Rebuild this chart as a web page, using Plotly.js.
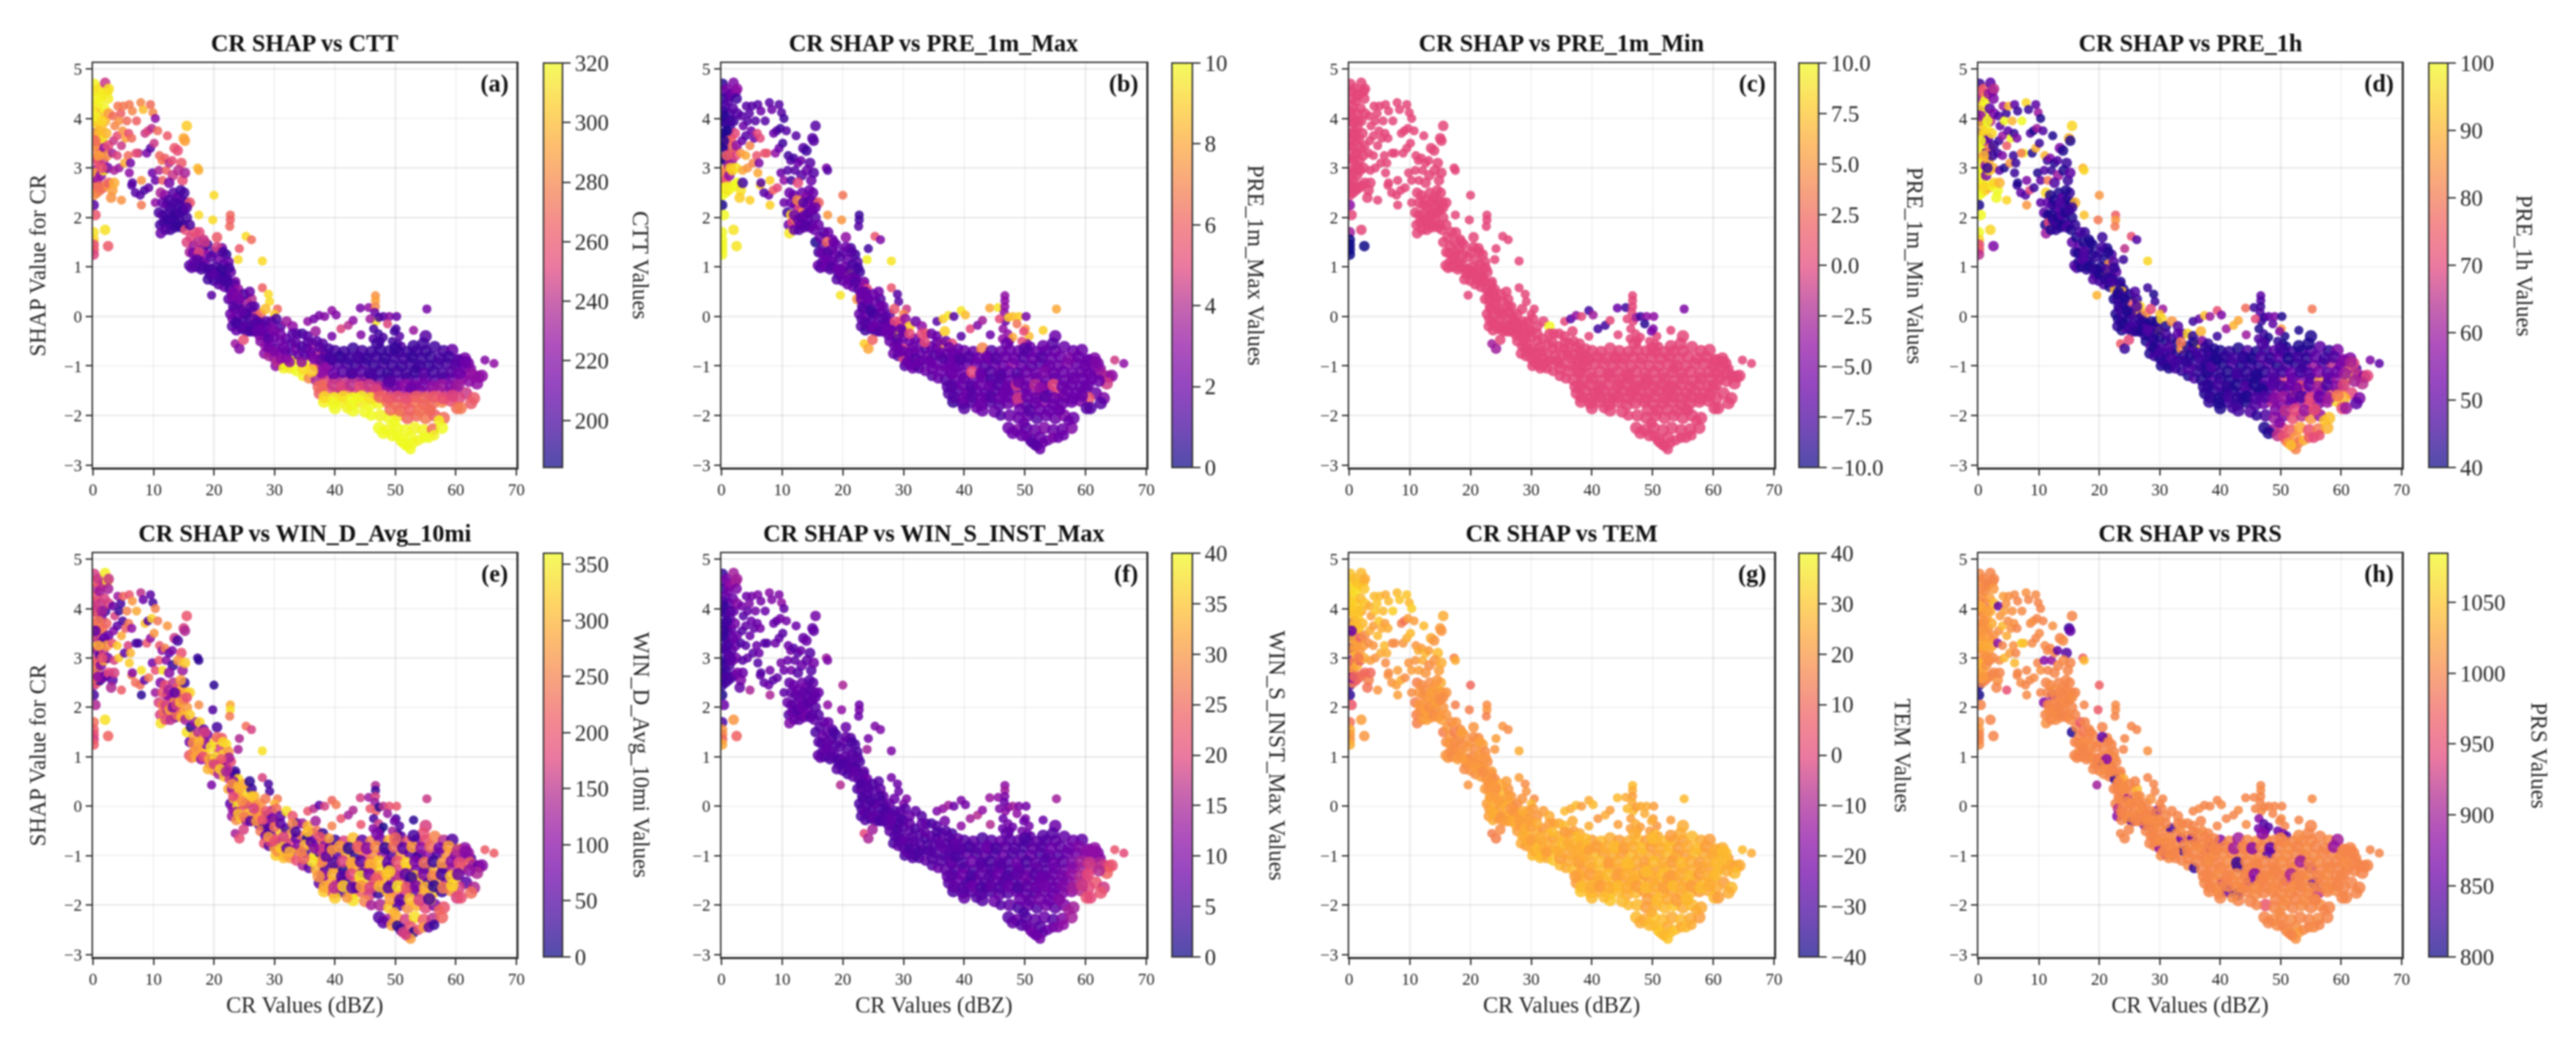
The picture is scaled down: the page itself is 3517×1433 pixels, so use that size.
<!DOCTYPE html>
<html><head><meta charset="utf-8">
<script src="https://cdn.plot.ly/plotly-3.0.1.min.js"></script>
<style>html,body{margin:0;padding:0;background:#fff}#g{width:3517px;height:1433px;filter:blur(0.8px)}</style>
</head><body><div id="g"></div>
<script>
const crValues=[
0.2,0.3,0.5,0.9,1.3,0.2,0.6,1.1,1.7,2.4,2.0,2.6,0.2,0.7,1.3,1.9,2.5,0.3,0.8,1.4,
2.0,2.6,0.2,0.6,1.1,1.6,2.2,0.2,0.7,1.3,1.9,2.5,0.2,0.6,1.2,1.7,2.3,0.2,0.7,1.3,
1.8,2.4,0.1,0.6,1.1,1.6,2.1,2.6,0.1,0.4,0.1,0.1,0.1,0.1,0.1,2.0,2.5,3.2,3.5,3.0,
3.3,4.1,4.6,3.6,4.3,5.0,3.4,4.0,4.9,5.6,3.2,4.0,4.7,5.4,3.5,4.3,5.2,5.8,4.7,6.4,
6.0,6.5,7.2,7.9,8.3,9.5,9.9,10.3,5.9,6.4,7.5,8.6,9.1,9.7,6.2,7.1,8.0,8.9,9.5,10.1,
6.5,7.0,7.8,8.5,9.2,9.8,10.3,8.0,6.0,10.7,11.0,11.4,11.9,12.3,10.3,10.9,11.5,12.1,12.6,13.1,
13.5,14,14.6,15,15.5,15.2,13.2,14.1,14.8,15.2,11.2,11.9,12.6,13.3,13.9,14.6,15.1,10.9,11.5,12.2,
12.8,13.4,14.1,14.8,15.4,11.1,11.7,12.4,13,13.6,14.2,14.9,15.5,11.2,12.0,12.8,13.9,14.6,15.3,16.0,
17.3,17.5,20,19.8,22.7,22.7,22.6,17.5,25.3,26.2,24.2,24,28,28,29,29.2,19.6,30.5,30,23.5,
15.5,16.2,16.9,17.6,18.3,16,16.7,17.4,18.2,18.9,15.9,16.6,17.4,18.1,18.8,16.3,17.0,17.9,18.6,19.3,
20.5,21.3,22,20.1,20.8,21.6,22.4,19.7,20.5,21.2,22,22.8,23.5,20,20.8,21.7,22.6,23.4,24,21.6,
22.4,23,23.7,22.7,23.3,24,24.7,25.4,26.2,25,25.9,26.7,23.1,23.9,24.7,25.4,26.3,27,27.7,28.5,
23,23.7,24.6,25.4,26.1,27,27.9,28.7,29.5,30.3,24.2,24.9,26.5,27.5,28.3,29.2,30,31,32,33,
27.7,28.5,29.3,30.2,31,31.9,32.8,33.7,34.6,35.5,28.3,29.1,30,30.9,31.8,32.7,33.6,34.5,35.4,36.3,
29.3,30.2,31.1,32,33,34,35,36,37,38,30.5,31.5,32.6,33.6,34.7,35.7,36.6,37.5,38.4,36.8,
35.5,36.5,37.4,38.3,39.5,40.2,41,42.2,43,44.2,45.6,46.7,46.7,46.7,46.6,46.8,47.3,48,49,50.2,
39.5,44.3,45.8,48.7,50.1,50.7,49.8,55.2,53,46.4,47.2,46.3,47.5,50.4,49.5,51,48,64.8,66.3,62.6,
38.5,40,41.5,43,44.5,46,47.5,49,50.5,52,53.5,55,55,56.5,58,59.4,60.5,61.5,62,54.6,
39,40.5,42,43.5,45,46.5,48,49.5,51,52.5,54,55.5,57,58.5,60,61.3,62.3,63,38,44,
37,38.5,40,41.5,43,44.5,46,47.5,49,50.5,52,53.5,55,56.5,58,59.5,61,63.8,64.3,63.5,
37.5,39,40.5,42,43.5,45,46.5,48,49.5,51,52.5,54,55.5,57,58.5,60,61.7,60.5,63,62.5,
38.2,39.8,41.2,42.8,44.3,45.8,47.2,48.7,50.2,51.7,53.2,54.7,56.2,57.7,59.2,60.2,60.8,40,43,45,
47.5,49,50.5,52,53.5,55,56.5,58,47.3,48.7,50.2,51.7,53.2,54.7,56.2,57.7,48,49.5,51,52.5,
50.3,51.2,52,53,53.8,54.7,55.5,56.4,52.5,51.7,49.8,46,43.5,42,41,55.8,57.2,44.5,53.5,42.7,
37.7,39.3,40.8,42.3,43.8,45.3,46.8,48.3,49.8,51.3,52.8,54.3,55.8,57.3,58.8,60.3,61.6,47,50,53,
37.8,39.8,41.3,42.8,44.3,45.8,47.3,48.8,50.3,51.8,53.3,54.8,56.3,57.8,59.3,60.6,36.2,34.8,62.2,46,
38,39.7,41.2,42.7,44.2,45.7,47.2,48.7,50.2,51.7,53.2,54.7,56.2,57.7,59.2,60.4,37.3,46.8,49,52.6,
38.3,39.9,41.4,42.9,44.4,45.9,47.4,48.9,50.4,51.9,53.4,54.9,56.4,57.9,59.4,49.2,50.8,52.4,54,55.6,
16.5,17.5,18.5,19.5,20.5,21.5,22.5,17.2,18.2,19.2,20.2,21.2,22.2,23.2,19.0,20.0,21.0,22.0,23.0,24.0,
23.2,24.2,25.2,26.2,27.2,23.6,24.6,25.6,26.6,27.6,28.6,29.6,24,25,26,27,28,29,30,31,
29,30,31,32,33,34,35,36,37,38,39,31.5,32.5,33.5,34.5,35.5,36.5,37.5,38.5,39.5,
0.4,0.9,1.5,0.4,0.9,1.5,0.4,0.9,12.0,12.6,13.2,13.8,14.4,15.0,11.5,12.5,13.5,14.5,15.5,16.0];
const shapValues=[
4.7,4.4,4.55,4.6,4.45,4.15,4.25,4.35,4.5,4.55,4.72,4.6,3.95,3.9,4.1,4.2,4.4,3.7,3.65,3.8,
3.95,4.1,3.45,3.4,3.55,3.6,3.7,3.2,3.15,3.3,3.4,3.45,2.95,2.9,3.05,3.15,3.25,2.7,2.75,2.85,
2.95,3.0,2.45,2.5,2.55,2.6,2.65,2.7,2.25,2.05,1.7,1.55,1.45,1.35,1.25,1.75,1.42,2.55,2.7,2.4,
4.05,4.25,4.1,3.85,3.95,4.25,3.55,3.65,3.75,3.95,3.3,3.25,3.45,3.6,2.95,3.0,3.1,3.25,2.35,2.65,
4.28,4.15,3.95,4.32,4.18,4.28,4.12,4.0,3.7,3.6,3.3,3.7,3.75,3.8,3.1,3.3,2.75,3.3,3.4,3.5,
2.7,2.5,2.45,2.55,2.6,2.9,2.75,2.25,2.9,3.75,3.25,3.15,3.2,3.65,2.3,2.95,2.75,2.95,3.1,3.15,
3.4,3.35,3.1,3.6,3.85,3.55,2.85,2.95,2.75,2.9,2.5,2.45,2.7,2.5,2.4,2.35,2.5,2.1,2.05,2.25,
2.2,2.1,2.25,2.15,2.3,1.85,1.9,1.95,1.85,1.8,1.95,1.85,2.0,1.68,1.75,1.75,1.85,1.8,1.75,2.3,
3.0,2.95,2.45,1.95,2.05,1.95,1.82,2.05,1.62,1.55,1.37,1.15,1.12,0.58,0.45,0.3,0.43,0.15,0.05,-0.55,
1.5,1.6,1.7,1.7,1.55,1.3,1.42,1.5,1.35,1.45,1.03,1.1,1.2,1.1,1.25,0.98,1.0,0.95,1.05,0.85,
1.6,1.38,1.25,1.3,1.15,1.05,1.1,0.95,0.88,0.85,0.8,0.9,0.7,0.72,0.65,0.6,0.55,0.65,0.55,0.78,
0.35,0.35,0.5,0.05,0.15,0.25,0.15,0.3,0.35,0.45,0.5,0.2,-0.05,0,-0.08,0.05,0.1,0,0.05,0.15,
-0.2,-0.28,-0.25,-0.3,-0.2,-0.15,-0.15,-0.2,-0.1,-0.05,-0.65,-0.47,-0.3,-0.38,-0.4,-0.35,-0.3,-0.2,-0.1,-0.2,
-0.5,-0.6,-0.55,-0.65,-0.5,-0.45,-0.55,-0.35,-0.35,-0.4,-0.75,-0.8,-0.85,-0.75,-0.7,-0.75,-0.65,-0.6,-0.65,-0.55,
-0.72,-1,-0.98,-1,-0.9,-0.9,-0.95,-0.8,-0.75,-0.7,-0.92,-1.05,-1.05,-1.1,-1.2,-1.25,-1.0,-0.95,-0.85,-0.3,
-0.1,-0.05,0.02,0,0.12,0.03,-0.25,-0.18,-0.08,0.17,0.18,0.42,0.32,0.2,0.08,-0.1,-0.02,0,0.0,0.0,
-0.4,-0.37,-0.05,-0.15,-0.25,-0.4,-0.3,0.15,-0.28,-0.25,-0.35,-0.45,-0.5,-0.55,-0.5,-0.6,-0.42,-0.88,-0.95,-1.05,
-0.78,-0.7,-0.72,-0.65,-0.7,-0.72,-0.68,-0.7,-0.72,-0.72,-0.7,-0.7,-0.4,-0.62,-0.7,-0.68,-0.88,-0.85,-0.95,-0.55,
-1.0,-0.95,-0.95,-1,-0.95,-1.0,-0.95,-1.0,-1.0,-0.95,-1,-1,-0.95,-0.95,-1,-1.05,-1.15,-1.2,-1.15,-0.85,
-1.28,-1.3,-1.25,-1.3,-1.22,-1.28,-1.25,-1.3,-1.25,-1.3,-1.25,-1.3,-1.25,-1.3,-1.25,-1.25,-1.25,-1.22,-1.2,-1.35,
-1.55,-1.5,-1.55,-1.5,-1.55,-1.5,-1.55,-1.5,-1.55,-1.5,-1.55,-1.5,-1.55,-1.5,-1.55,-1.45,-1.55,-1.65,-1.65,-1.75,
-1.72,-1.75,-1.72,-1.78,-1.72,-1.78,-1.75,-1.72,-1.78,-1.75,-1.72,-1.78,-1.75,-1.72,-1.7,-1.85,-1.85,-1.85,-1.9,-1.92,
-2.0,-2.05,-2.0,-2.05,-2.0,-2.05,-2.0,-2.05,-2.25,-2.3,-2.25,-2.3,-2.25,-2.3,-2.28,-2.25,-2.35,-2.4,-2.5,-2.45,
-2.42,-2.55,-2.62,-2.55,-2.5,-2.45,-2.45,-2.4,-2.68,-2.6,-2.15,-2.0,-1.65,-1.85,-1.5,-1.9,-2.1,-1.35,-1.05,-1.15,
-0.88,-0.85,-0.82,-0.85,-0.82,-0.85,-0.82,-0.85,-0.82,-0.85,-0.82,-0.85,-0.82,-0.85,-0.82,-0.9,-0.92,-0.55,-0.65,-0.6,
-1.12,-1.15,-1.12,-1.15,-1.12,-1.15,-1.12,-1.15,-1.12,-1.15,-1.12,-1.15,-1.12,-1.15,-1.12,-1.15,-1.1,-1.05,-1.3,-1.18,
-1.4,-1.38,-1.42,-1.38,-1.42,-1.38,-1.42,-1.38,-1.42,-1.38,-1.42,-1.38,-1.42,-1.38,-1.42,-1.38,-1.42,-1.48,-1.32,-1.45,
-1.63,-1.65,-1.62,-1.65,-1.62,-1.65,-1.62,-1.65,-1.62,-1.65,-1.62,-1.65,-1.62,-1.65,-1.6,-1.88,-1.9,-1.88,-1.9,-1.88,
1.28,1.3,1.5,1.2,1.4,1.3,0.98,1.15,1.0,0.95,1.0,0.95,0.75,0.5,0.75,0.85,0.75,0.7,0.45,0.4,
0.2,0.35,0.05,0.2,-0.1,-0.12,0.1,-0.15,-0.05,-0.25,-0.1,-0.25,-0.15,-0.22,-0.3,-0.3,-0.28,-0.45,-0.42,-0.35,
-0.62,-0.7,-0.85,-0.85,-0.35,-0.78,-0.78,-0.72,-0.5,-0.55,-0.65,-0.62,-0.92,-0.52,-0.92,-0.52,-0.85,-0.62,-1.02,-0.88,
4.05,3.75,3.95,3.55,3.25,3.0,2.6,2.62,2.05,1.95,2.0,2.05,2.1,2.15,2.3,2.35,2.3,2.55,2.2,1.85];
const cttValues=[
318,316,315,312,318,300,315,318,316,315,245,312,285,310,300,318,316,225,290,300,
296,288,305,280,275,315,298,250,255,265,225,255,230,290,260,245,285,210,235,225,
315,215,285,280,275,270,285,265,205,260,312,310,255,262,250,312,262,290,295,285,
270,275,265,280,285,275,245,255,285,270,235,250,245,290,235,230,295,270,285,205,
275,280,265,280,300,270,280,225,255,270,240,245,250,240,215,255,285,215,205,245,
205,205,205,200,208,212,210,275,225,270,268,275,265,262,225,235,265,265,240,255,
262,255,262,295,305,290,245,240,255,235,235,225,215,205,210,205,200,200,205,200,
200,197,200,195,200,200,198,195,200,195,198,195,198,210,205,200,195,195,255,260,
300,295,310,310,268,265,268,310,310,270,262,310,310,265,310,310,205,268,305,230,
250,250,255,252,245,235,230,240,215,200,205,210,215,205,225,205,205,200,215,208,
262,215,192,205,215,205,210,205,205,200,205,210,220,200,205,210,200,205,225,192,
205,215,230,210,215,205,200,230,240,200,210,205,215,210,205,198,205,255,268,300,
205,210,205,200,205,208,212,205,220,200,220,255,205,215,210,205,235,205,230,225,
220,225,215,205,215,210,205,205,200,205,225,235,230,215,210,205,215,200,205,230,
230,225,225,320,315,318,320,240,235,245,240,318,315,320,318,280,250,255,240,230,
225,215,215,220,225,220,250,240,225,215,225,285,290,280,210,315,200,205,220,210,
215,220,230,250,200,205,198,215,228,200,198,205,200,200,198,205,200,220,225,220,
205,200,198,196,200,198,195,196,198,197,200,196,205,198,200,210,210,215,218,198,
215,205,200,198,200,196,200,198,195,198,198,196,197,200,205,212,225,228,225,200,
235,250,235,240,245,235,230,200,205,210,205,208,215,205,210,215,225,225,225,225,
262,255,255,262,250,245,255,260,235,225,235,228,240,245,235,235,245,250,262,262,
318,320,318,320,315,320,318,270,272,268,275,265,270,280,255,270,275,320,320,320,
318,320,315,268,270,275,265,270,320,318,320,320,318,318,272,320,320,320,320,320,
320,320,320,320,318,320,320,318,320,320,320,320,320,318,245,265,318,220,198,215,
205,198,195,197,200,196,198,195,198,200,195,197,196,200,198,205,212,197,195,197,
225,210,205,200,205,200,198,195,200,198,196,205,198,200,205,212,305,310,225,200,
270,245,250,240,255,245,240,220,215,225,218,215,225,228,220,230,268,250,205,212,
310,318,312,320,318,312,265,262,258,255,265,268,262,255,250,270,268,265,272,270,
215,250,245,205,248,200,198,205,200,198,200,195,200,215,198,205,200,198,215,220,
205,215,200,205,200,198,208,200,205,210,205,215,200,205,200,208,210,205,212,215,
215,218,225,220,205,210,205,210,205,205,200,212,225,208,225,205,215,205,225,200,
318,300,310,270,290,255,280,270,198,196,198,195,200,198,210,202,200,198,205,200];
const pre1mMaxValues=[
0.5,0.3,1,2.5,1.5,0.5,1,1.5,2,2.5,2.5,3,0.3,0.8,1,1.5,1,0.3,0.5,1,
1,1.5,0.3,0.5,5,6,5,0.2,0.5,2,6.5,3,7.5,7,4,3,5,8,5,3,
9,9.5,10,10,9.5,10,10,10,0.2,10,10,10,10,10,10,9.5,9.5,9.5,1,9,
1.5,1.5,1.5,2,1.5,1.5,2,1.5,2,1.5,7.5,8,7,2,8,7.5,7,5.5,9,9,
1.5,2,1.5,1.5,2,1.5,1.5,1,5,5,5.5,2,1.5,1,2.5,5.5,9,3,2,1,
1.5,1.5,2,6,5,2,3,9,8,1.5,1,1.5,1,1.5,2,1.5,1,1.5,2,2,
1.5,1,1.5,1.5,1.5,1.5,1.5,2,2,1.5,2,2,5,2,3,1.5,2,1,9,2,
5,7,3,2,2,2,5,8,1.5,2,1.5,2,1.5,9.5,2,1.5,1.5,1.5,2,6,
2.5,1.5,6.5,7.5,0.8,1,1.5,7.5,5.5,2.5,1,9.8,9.5,5.5,1.5,1.5,9.5,4.5,7,9,
0.3,2,1.5,2,2,1,1.5,6,2,2,2,1.5,2,1.5,2,1.5,2,1.5,2,1.5,
3,1,0.8,1.5,2,1,1.5,2,1.5,9.5,2,1,2,2,2,2,1.5,3,5,1.5,
7.5,2,1.5,2,1.5,1.5,1,2,1.5,2,2,2,1.5,2,1.5,1.5,2,2,1.5,5.5,
1.5,1,1.5,1,1.5,2,1.5,2,6,3,8,6,1.5,1.5,2,9,1.5,9,2,3,
2,2,2,5,2,2,2,6,2,2,2,1.5,5,2,2,2,1.5,2,2,7,
2,1.5,2,2,1.5,2,2,1.5,2,2,2,2,1.5,2,1.5,2,2,2,2,9,
1.5,9,9.5,1.5,9.5,8.5,5,2.5,3.5,8,9.5,3,3,3,3,2,9,8.5,9,2.5,
1.5,2,5,6.5,7.5,8.5,5,8,9,3,3,3,2,2,5,2,8,4.5,3,3,
2,2,2,7,1.5,2,2,2,1.5,2,1.5,2,2,2,2,2,2,2.5,2.5,1.5,
1.5,2,2,1.5,2,2,3,2,1.5,1.5,2,2,2.5,2,2,2.5,3,3.5,2,2,
1.5,2,1.5,2,2,1,2,2,1.5,2.5,2,2,1.5,2,2,2,2,4,3,4.5,
1.5,1.5,2,2,1.5,1.5,2,2.5,2,3,4,2,5,2,2,1.5,2,5.5,2.5,1.5,
0.8,1.5,1.5,2,1.5,1.5,2,3,1.5,2,3,2,2,2,2.5,1.5,1.5,1.5,2,2,
2,2,2,1.5,2,2,2.5,2,2,2.5,1.5,2,2.5,2,2,2.5,2,2,1.5,2,
2,1.5,1.5,2,2,2.5,2,2,2,1.5,2,1.5,2,2,2,2.5,2,1.5,2,2,
2,1.5,1.5,2,2,1.5,2,2,1.5,2,1.5,2,2,2.5,2,2,2.5,2,1.5,2,
2,2,5,2,1.5,2,2,1.5,2,2,2.5,2,2,2,2,2,2,2,2,1.5,
1.5,2,1.5,2,2,1.5,2,4.5,2,4,2,5,2,2,2,2,1.5,2,2,3,
1.5,2,1.5,2,1.5,2,2,4.5,2,2,1.5,2,2,2,2,2,1.5,2,2,2,
2,1.5,2,1.5,2,1.5,1,2,1.5,2,2,1.5,2,2,1.5,2,2,1.5,2,2,
1.5,2,1.5,2,2,1.5,1,2,1.5,2,5,2,1.5,2,1.5,2,2,1.5,2,5,
2,2,2,1.5,5,2,1.5,2,2,5,2,2,2,5,2,2,1.5,2,2,1.5,
0.5,0.3,1,0.5,6,9,9.5,9.8,2,2,1.5,2,1.5,2,2,7,1.5,2,2,2];
const pre1mMinValues=[
0,0,0,0,0,0,0,0,0,0,0,0,0,0,0,0,0,0,0,0,
0,0,0,0,0,0,0,0,0,0,0,0,0,0,0,0,0,0,0,0,
0,0,0,0,0,0,0,0,-4,0,-3,-10,-10,-10,-10,0,-10,0,0,0,
0,0,0,0,0,0,0,0,0,0,0,0,0,0,0,0,0,0,0,0,
0,0,0,0,0,0,0,0,0,0,0,0,0,0,0,0,0,0,0,0,
0,0,0,0,0,0,0,0,0,0,0,0,0,0,0,0,0,0,0,0,
0,0,0,0,0,0,0,0,0,0,0,0,0,0,0,0,0,0,0,0,
0,0,0,0,0,0,0,0,0,0,0,0,0,0,0,0,0,0,0,0,
0,0,0,0,0,0,0,0,0,0,0,0,0,0,0,0,0,0,0,-3,
0,0,0,0,0,0,0,0,0,0,0,0,0,0,0,0,0,0,0,0,
0,0,0,0,0,0,0,0,0,0,0,0,0,0,0,0,0,0,0,0,
0,0,0,0,0,0,0,0,0,0,0,0,0,0,0,0,0,0,0,0,
0,0,0,0,0,0,0,0,0,0,-3,0,0,0,0,0,0,0,0,10,
0,0,0,0,0,0,0,0,0,0,0,0,0,0,0,0,0,0,0,0,
0,0,0,0,0,0,0,0,0,0,0,0,0,0,0,0,0,0,0,0,
0,-7,-4,0,-8,-3,-8,-8,0,-6,-8,0,0,0,0,0,-3,-8,-4,-4,
0,0,0,-9,-5,0,-5,-5,0,0,0,0,0,0,0,0,0,0,0,0,
0,0,0,0,0,0,0,0,0,0,0,0,0,0,0,0,0,0,0,0,
0,0,0,0,0,0,0,0,0,0,0,0,0,0,0,0,0,0,0,0,
0,0,0,0,0,0,0,0,0,0,0,0,0,0,0,0,0,0,0,0,
0,0,0,0,0,0,0,0,0,0,0,0,0,0,0,0,0,0,0,0,
0,0,0,0,0,0,0,0,0,0,0,0,0,0,0,0,0,0,0,0,
0,0,0,0,0,0,0,0,0,0,0,0,0,0,0,0,0,0,0,0,
0,0,0,0,0,0,0,0,0,0,0,0,0,0,0,0,0,0,0,0,
0,0,0,0,0,0,0,0,0,0,0,0,0,0,0,0,0,0,0,0,
0,0,0,0,0,0,0,0,0,0,0,0,0,0,0,0,0,0,0,0,
0,0,0,0,0,0,0,0,0,0,0,0,0,0,0,0,0,0,0,0,
0,0,0,0,0,0,0,0,0,0,0,0,0,0,0,0,0,0,0,0,
0,0,0,0,0,0,0,0,0,0,0,0,0,0,0,0,0,0,0,0,
0,0,0,0,0,0,0,0,0,0,0,0,0,0,0,0,0,0,0,0,
0,0,0,0,0,0,0,0,0,0,0,0,0,0,0,0,0,0,0,0,
0,0,0,0,0,0,0,0,0,0,0,0,0,0,0,0,0,0,0,0];
const pre1hValues=[
45,60,70,75,85,48,95,100,60,55,50,65,45,90,100,50,55,50,95,100,
65,55,95,100,60,50,95,90,100,50,80,45,100,100,60,90,45,90,100,55,
95,90,100,100,95,90,100,95,42,100,100,95,70,75,65,95,55,100,90,100,
48,60,45,50,100,90,45,60,50,90,45,55,75,100,50,42,85,45,95,45,
50,45,100,95,45,50,60,42,45,55,100,48,42,60,45,80,55,42,90,45,
42,50,48,70,45,42,50,85,45,48,90,45,55,42,50,48,80,45,42,48,
55,42,45,90,95,42,60,42,45,50,95,42,48,42,50,42,45,50,42,42,
45,50,42,48,42,42,70,42,50,42,44,48,42,60,42,44,42,48,42,90,
90,95,85,80,75,85,80,92,72,48,65,45,95,45,42,45,90,60,92,75,
50,42,48,45,42,44,50,42,45,42,48,42,44,50,42,48,42,44,42,45,
45,42,48,44,42,85,48,42,44,95,42,50,42,45,48,42,90,44,42,42,
42,45,90,42,48,44,42,75,45,42,48,95,42,45,42,48,90,45,85,70,
44,42,48,42,45,42,44,48,42,95,45,70,42,48,44,42,95,42,85,48,
42,48,44,50,42,45,42,48,95,44,42,46,42,48,44,42,85,42,48,95,
46,42,44,48,42,46,44,42,48,42,44,42,46,44,42,48,46,42,46,90,
45,50,92,60,72,55,60,90,88,78,45,50,48,45,48,45,45,50,55,42,
45,60,70,50,85,42,55,80,42,42,45,48,42,40,44,42,42,55,50,48,
46,42,44,42,48,42,44,50,42,46,44,48,42,50,44,55,60,55,70,42,
44,42,48,42,46,44,50,42,48,44,50,60,48,65,52,80,65,65,48,44,
42,48,44,42,46,44,42,50,44,70,48,55,50,85,55,60,92,55,70,65,
42,44,46,42,45,48,42,44,60,50,85,55,60,50,75,80,70,90,55,50,
44,42,46,44,42,48,52,65,55,50,60,70,55,60,95,72,60,42,46,48,
48,60,55,72,65,85,60,92,42,60,70,75,88,72,80,90,42,65,75,85,
72,85,78,80,90,75,70,72,82,92,55,44,42,46,42,60,92,42,44,44,
44,42,44,46,44,42,48,44,50,42,46,44,50,46,48,55,62,48,46,42,
42,44,42,46,44,46,44,48,46,52,46,48,55,50,52,60,44,48,62,42,
42,46,44,42,48,42,46,50,48,52,72,50,60,48,55,68,44,42,48,52,
44,42,46,44,42,48,48,55,60,52,48,70,52,60,80,55,65,70,60,72,
42,48,42,44,46,42,44,48,42,44,42,46,44,42,48,42,44,46,42,44,
44,42,46,48,42,44,42,46,44,48,42,44,42,46,44,42,48,44,42,46,
42,46,44,48,50,44,42,46,55,44,42,48,46,80,44,42,46,44,48,42,
60,95,100,100,90,45,100,95,42,45,42,48,42,45,50,42,48,42,45,44];
const winDValues=[
170,150,220,160,180,130,200,120,150,340,350,160,60,210,150,170,130,190,240,90,
30,170,280,150,200,240,220,300,110,90,60,70,180,220,40,160,270,70,250,90,
300,80,150,200,30,90,60,180,40,140,230,210,190,170,210,340,220,60,170,140,
70,120,40,170,30,220,100,60,40,250,190,320,290,210,170,320,60,170,210,250,
200,270,290,150,70,60,40,250,240,110,40,310,50,330,300,40,340,200,110,270,
100,230,230,60,240,80,190,20,320,240,200,110,250,270,120,200,340,100,60,90,
160,40,190,170,200,140,30,270,120,320,90,190,100,150,200,300,30,170,240,90,
110,250,220,140,290,170,230,100,200,80,260,310,270,340,190,150,230,300,130,330,
30,20,20,50,290,340,240,260,230,170,140,130,340,170,40,40,90,240,300,130,
340,20,110,330,60,80,290,150,260,90,200,250,170,320,100,240,290,110,320,180,
40,200,340,320,170,330,270,60,280,210,100,190,30,260,130,310,160,30,330,100,
290,110,340,60,320,200,310,330,30,290,20,300,110,340,180,60,280,240,270,240,
120,260,320,100,170,230,280,20,120,230,190,170,300,60,10,130,290,60,340,200,
240,70,30,180,320,40,270,30,130,300,200,50,280,90,310,170,60,240,10,150,
170,320,350,200,100,260,30,340,80,300,260,310,280,190,140,60,340,20,170,130,
200,150,60,170,220,240,200,130,140,170,120,140,30,170,120,210,20,150,190,200,
250,200,200,120,40,50,80,160,20,40,160,100,30,20,130,60,10,210,210,50,
100,30,170,310,60,250,80,300,20,200,60,190,170,250,150,50,300,110,120,190,
250,60,300,20,200,260,120,50,290,60,20,110,50,270,100,90,220,130,200,280,
300,40,230,10,310,270,150,340,40,170,280,80,20,300,60,150,260,60,100,140,
60,280,170,30,260,340,250,300,90,220,50,310,30,290,80,340,60,170,140,230,
320,180,40,340,220,170,30,300,240,170,60,280,320,30,260,170,190,320,340,250,
140,320,50,260,300,180,90,200,50,130,290,170,340,210,150,220,60,280,40,200,
20,170,150,10,200,280,60,30,280,170,300,130,50,270,100,320,220,60,40,170,
170,60,280,20,210,100,260,30,230,60,280,110,230,80,280,150,100,90,220,40,
260,40,170,300,60,220,320,60,200,330,90,230,30,270,100,190,340,220,110,300,
110,300,50,180,340,90,250,310,150,60,320,90,250,40,310,70,270,200,320,30,
290,150,320,60,270,170,300,50,340,210,90,300,20,240,330,280,60,310,170,40,
250,300,170,340,220,330,130,280,180,290,330,200,160,100,300,170,320,130,260,300,
180,300,220,320,270,120,260,310,170,280,200,90,310,240,60,270,190,50,230,60,
270,200,320,60,250,100,300,60,240,30,280,170,300,40,250,310,100,200,60,270,
170,240,130,60,290,190,220,100,170,280,90,170,300,250,200,130,60,280,190,320];
const winSValues=[
3,2,6,10,12,4,6,9,12,15,14,14,2,4,6,8,10,2,4,6,
8,11,2,3,5,7,9,2,4,5,7,8,2,3,6,6,8,2,3,5,
7,9,3,4,5,5,6,9,1,8,5,30,28,25,32,30,24,10,8,7,
9,8,10,6,7,9,6,7,8,9,5,6,8,7,6,7,6,8,15,7,
10,9,8,11,10,10,12,7,8,9,6,8,7,9,8,6,9,8,7,6,
6,7,8,6,7,9,8,15,6,9,8,9,6,8,7,8,9,7,6,8,
7,8,6,7,9,7,8,7,6,9,7,8,6,8,9,6,7,8,7,6,
7,8,6,9,7,6,8,7,6,9,8,7,6,10,8,7,9,6,7,8,
14,10,15,12,8,9,8,12,10,10,9,14,10,9,8,8,16,10,10,20,
5,6,7,8,7,6,8,7,6,5,7,6,8,7,6,7,6,5,7,6,
8,6,5,7,6,7,5,6,7,8,6,5,7,6,5,7,6,6,8,5,
5,7,8,5,6,7,5,6,7,5,6,8,5,6,5,7,6,5,7,8,
5,6,5,6,7,5,6,7,8,6,15,14,5,6,7,5,6,8,7,6,
7,6,5,6,7,5,6,7,5,6,5,7,6,5,7,6,5,7,6,7,
6,5,7,6,8,5,6,7,5,6,7,6,5,7,6,8,5,6,7,9,
10,12,14,8,10,9,14,16,12,13,12,12,14,10,8,12,10,14,10,9,
12,16,10,12,10,9,8,14,8,8,9,8,7,8,9,7,8,22,20,12,
7,6,7,5,6,8,6,7,5,7,6,7,8,7,8,7,10,12,10,6,
6,7,5,7,6,8,5,6,8,5,7,6,8,9,10,12,15,18,8,6,
7,6,8,5,7,6,8,5,7,6,8,6,7,9,12,14,18,20,22,24,
6,8,5,7,6,8,6,5,7,6,8,7,9,10,14,18,22,20,18,22,
5,7,6,8,5,7,6,8,7,5,7,8,10,12,16,22,20,7,6,8,
7,5,8,6,9,7,10,14,6,8,6,7,8,6,10,14,7,6,8,6,
7,9,8,6,8,9,10,12,9,8,5,6,7,6,5,15,14,6,6,7,
6,7,5,6,8,5,7,6,5,7,6,8,7,8,10,12,12,7,5,6,
7,5,8,6,5,7,6,8,5,7,6,8,7,10,14,18,6,6,16,6,
6,8,5,7,6,8,5,7,9,6,7,8,9,12,16,20,7,6,7,8,
7,6,8,5,7,6,8,5,7,8,9,8,10,14,18,8,7,9,8,10,
6,7,5,6,7,5,6,7,6,5,7,6,5,7,6,5,6,7,5,6,
5,6,7,5,6,7,5,6,5,7,6,5,6,7,5,6,7,5,6,7,
6,7,5,6,7,5,6,7,6,5,7,6,5,7,6,5,7,6,5,6,
3,4,6,3,5,6,3,5,7,6,8,7,6,7,7,8,7,6,7,6];
const temValues=[
30,32,35,28,30,30,32,35,30,28,28,25,20,30,32,28,30,-20,28,32,
25,30,-25,25,18,30,28,-30,20,22,8,18,-10,15,28,20,22,5,20,25,
8,25,-30,15,5,10,12,10,-35,5,12,25,22,20,25,22,20,15,10,12,
25,28,30,22,30,28,25,22,30,28,18,20,28,25,22,20,25,28,20,20,
25,28,32,28,30,30,28,32,22,25,18,15,12,22,25,18,22,20,25,28,
18,20,22,25,18,20,22,22,18,22,20,25,22,28,18,20,22,25,28,22,
25,20,28,22,25,20,18,20,22,25,15,18,20,18,20,22,25,15,20,18,
20,22,18,20,22,15,18,20,22,20,18,22,20,15,20,22,18,20,22,20,
15,25,10,15,18,20,15,15,20,18,22,20,25,22,18,20,20,18,28,15,
15,20,18,20,18,18,20,15,18,20,20,18,20,22,18,20,18,22,20,18,
20,18,22,20,18,22,18,20,22,18,20,18,22,20,18,22,20,20,18,18,
22,20,18,22,25,20,22,28,20,25,22,20,22,25,20,22,25,22,18,20,
22,25,20,22,25,22,20,25,20,22,15,18,22,25,20,22,25,20,22,25,
22,25,28,22,25,20,25,22,25,28,25,22,25,28,22,25,22,25,28,22,
25,28,30,28,25,28,25,22,25,28,25,28,25,30,28,25,22,25,28,25,
28,25,28,22,25,28,20,25,22,28,25,28,25,22,25,28,22,25,25,22,
25,22,28,25,22,20,25,28,22,22,25,22,25,28,22,25,22,28,25,22,
25,22,28,25,22,25,28,22,25,28,25,22,25,28,25,22,25,25,28,25,
25,28,22,25,22,28,25,25,22,28,25,22,28,25,22,25,28,25,28,25,
28,22,25,28,22,25,28,22,25,22,28,25,22,25,28,22,25,22,25,28,
22,25,28,25,28,22,25,28,22,25,28,22,25,22,28,25,22,25,28,25,
30,28,25,30,28,25,28,22,25,28,22,25,28,22,25,28,22,28,30,28,
28,22,25,28,30,25,28,25,28,25,30,28,25,28,25,22,25,28,30,25,
28,30,25,28,30,25,28,25,30,28,25,28,30,28,25,25,25,22,25,22,
25,28,22,25,28,22,25,28,22,25,28,22,25,28,22,25,28,25,28,22,
22,25,28,22,25,28,25,22,28,25,22,28,25,22,25,28,25,22,25,28,
25,22,25,28,22,25,28,22,25,28,22,25,28,22,25,28,22,25,28,22,
28,25,22,25,28,25,22,28,25,22,28,25,22,28,25,22,28,25,22,28,
20,18,22,20,18,22,20,18,20,22,18,20,22,20,18,20,22,18,20,22,
22,20,25,22,20,25,22,25,20,22,25,22,25,20,22,25,22,25,22,25,
25,22,28,25,22,25,28,25,22,25,28,25,22,28,25,22,25,28,25,22,
32,28,30,-25,22,15,-15,10,20,22,18,20,22,18,20,18,22,20,18,20];
const prsValues=[
1005,1000,1010,1000,1005,1000,1010,1005,1000,1000,1000,1000,1005,1010,990,1020,1015,1010,1005,1020,
1030,1040,1010,1020,1015,1010,1030,1010,1020,1015,1020,1010,1000,1040,1010,1020,1030,1000,1030,1010,
1000,1005,810,1000,1000,1005,1000,1000,805,1000,1010,1015,1000,1000,1005,1000,1000,1010,1000,1000,
850,1020,1010,1015,1020,1010,1010,1040,1005,1010,880,1000,1030,1010,1005,1040,1020,1010,950,1000,
1005,1000,1005,1010,1000,1005,1000,1000,1010,1000,1040,1005,1010,1000,1000,1050,1000,1005,1000,1005,
1000,1005,1000,1000,1005,1000,1010,1005,1040,1000,1005,1000,1000,1010,1000,880,1000,890,1000,850,
1000,1005,840,820,1000,850,1000,1005,1000,1000,1000,1005,1000,1000,1005,1000,1000,880,1000,880,
1000,1005,1000,1000,1005,1000,1005,1000,1005,1000,1000,1005,1000,1010,1000,1005,1000,1000,1005,1000,
970,1040,970,965,1005,1005,1000,1000,1000,1000,1000,1000,1010,1000,1000,1000,900,1000,1000,1000,
810,1000,960,1000,1000,1000,1000,990,1000,1000,1000,1005,1000,1000,1005,1000,1000,1000,1005,1000,
1000,1000,1000,1000,1000,1005,1000,950,820,1000,1005,1000,1000,1000,1005,1000,820,1000,1030,1000,
1000,1000,1030,1000,1005,1000,900,1000,1040,1000,1000,1005,920,1000,1000,1005,1000,1000,1000,1010,
880,1000,1005,840,1000,1000,1005,1000,870,1000,1000,1000,1000,850,1000,1005,1000,1000,1000,1000,
1000,1000,1005,1000,1000,830,1000,1005,1000,1000,1000,1000,880,1000,1005,1000,860,1000,850,1000,
1000,1005,930,1000,1005,820,1000,1000,1005,1000,1000,1005,1000,1000,1005,820,1000,1000,860,1000,
1000,1005,1000,1000,1000,1005,1000,1000,1005,1000,1000,1000,1005,1000,1000,1005,1000,1000,1000,1000,
1000,1005,1000,1000,1005,1000,1000,1005,1000,880,840,860,850,870,860,840,840,1000,1000,1000,
1000,880,1000,900,1000,1005,1000,1000,1005,1000,1000,1005,1000,1000,1005,900,1000,1000,1000,1000,
1000,1005,1000,1000,1005,1000,840,1000,1005,1000,1000,1005,1000,1000,1005,1000,1000,1000,1000,1000,
1000,1000,1005,1000,830,1000,1005,1000,1000,1000,1005,1000,920,1000,1005,1000,1000,1000,1000,1000,
1000,1005,920,1000,1005,860,1000,1005,1000,930,1000,1005,850,1000,1005,1000,1000,1000,1000,1000,
1000,1005,850,830,1000,1005,1000,1000,1005,1000,1000,1005,920,1000,1005,1000,1000,1000,1000,1000,
960,1000,1005,1000,1005,1000,1005,1000,1000,1005,1000,1005,1000,1000,1005,1000,1000,1005,1000,1005,
1000,1005,1000,1020,1005,1000,1005,1000,1010,1000,1005,1000,1000,1005,1000,1000,1000,1000,1000,1000,
1000,1005,1000,900,1000,880,1000,850,1000,1005,1000,1005,1000,1000,890,1000,1000,880,1000,1005,
1005,1000,1005,820,1000,1005,1000,1000,1005,1000,900,1000,1005,1000,1000,1005,1000,1000,1000,1000,
1000,1005,1000,1005,1000,880,1000,1005,1000,910,1000,1005,1000,1005,1000,1000,1000,1000,1000,1000,
1000,1005,1000,1005,1000,1005,1000,1005,1000,1005,1000,1005,1000,1005,1000,1000,1005,1000,1005,1000,
1000,1005,1000,1000,850,1000,1005,1000,1000,1005,1000,880,1000,1005,1000,1000,1005,1000,1000,1005,
1000,1005,1000,1005,1000,1000,1005,1000,1005,1000,1000,1005,1000,1005,1000,1000,1005,1000,1005,1000,
1000,1005,1000,1005,1000,1000,1005,1000,1005,1000,1000,1005,1000,1005,1000,1000,1005,1000,1005,1000,
1030,1010,1020,1015,1030,1010,1020,1015,1000,1005,1000,1000,1005,1000,1000,1005,1000,1000,1005,1000];

const variableNames=['CTT','PRE_1m_Max','PRE_1m_Min','PRE_1h','WIN_D_Avg_10mi','WIN_S_INST_Max','TEM','PRS'];
const panelLetters=['a','b','c','d','e','f','g','h'];
const colorMins=[184.2,0,-10,40,0,0,-40,800];
const colorMaxs=[320,10,10,100,360,40,40,1084.5];
const colorTicks=[
 [200,220,240,260,280,300,320],[0,2,4,6,8,10],[-10,-7.5,-5,-2.5,0,2.5,5,7.5,10],
 [40,50,60,70,80,90,100],[0,50,100,150,200,250,300,350],[0,5,10,15,20,25,30,35,40],
 [-40,-30,-20,-10,0,10,20,30,40],[800,850,900,950,1000,1050]];
const xTicks=[0,10,20,30,40,50,60,70];
const yTicks=[-3,-2,-1,0,1,2,3,4,5];

const W=3517,H=1433;
const colLeft=[127,985,1842,2701],colRight=[705,1565,2422,3279];
const cbLeft=[742,1600,2456,3316],cbWidth=[26,28,27,26];
const cbTitleX=[875,1715,2615,3447,875,1743,2597,3466];
const rowTop=[86,755],rowBottom=[638,1306];
const plasma=['#0d0887','#41049d','#6a00a8','#8f0da4','#b12a90','#e4467a','#ee5f62','#f5844b','#fca636','#fcce25','#f0f921'];
const alpha=0.85,barAlpha=0.72;
function hexRGB(h){return [1,3,5].map(i=>parseInt(h.slice(i,i+2),16));}
const markerScale=plasma.map((c,i)=>[i/10,c]);
const barScale=plasma.map((c,i)=>{const r=hexRGB(c).map(v=>Math.round(v*barAlpha+255*(1-barAlpha)));return [i/10,`rgb(${r.join(',')})`];});
const sparseRows=[3,4,5,8,15,16];
const coreRows=[17,18,19,20,21,22,24,25,26,27];
const markerSizes=crValues.map((_,i)=>{const r=Math.floor(i/20);return sparseRows.includes(r)?12.5:coreRows.includes(r)?17:14.5;});
const serif='"Liberation Serif","Times New Roman",serif';
const ink='#262626';
const series=[cttValues,pre1mMaxValues,pre1mMinValues,pre1hValues,winDValues,winSValues,temValues,prsValues];
const layout={width:W,height:H,margin:{l:0,r:0,t:0,b:0,autoexpand:false},paper_bgcolor:'#fff',plot_bgcolor:'#fff',
 showlegend:false,font:{family:serif,color:ink},annotations:[]};
const traces=[];
variableNames.forEach((name,i)=>{
 const col=i%4,row=i<4?0:1,s=i===0?'':String(i+1);
 const xa='xaxis'+s,ya='yaxis'+s,xr='x'+s,yr='y'+s;
 layout[xa]={domain:[colLeft[col]/W,colRight[col]/W],anchor:yr,range:[0,70],tickmode:'array',tickvals:xTicks,
  showline:true,mirror:true,linecolor:'#333',linewidth:2.5,ticks:'outside',ticklen:8,tickwidth:2,tickcolor:'#333',
  gridcolor:'rgba(0,0,0,0.09)',gridwidth:1.5,zeroline:false,tickfont:{size:23,family:serif,color:ink},
  title:row===1?{text:'CR Values (dBZ)',font:{size:31,family:serif,color:ink},standoff:12}:{text:''}};
 layout[ya]={domain:[1-rowBottom[row]/H,1-rowTop[row]/H],anchor:xr,range:[-3.05,5.12],tickmode:'array',tickvals:yTicks,
  showline:true,mirror:true,linecolor:'#333',linewidth:2.5,ticks:'outside',ticklen:8,tickwidth:2,tickcolor:'#333',
  gridcolor:'rgba(0,0,0,0.09)',gridwidth:1.5,zeroline:false,tickfont:{size:23,family:serif,color:ink},
  title:col===0?{text:'SHAP Value for CR',font:{size:31,family:serif,color:ink},standoff:16}:{text:''}};
 traces.push({type:'scatter',mode:'markers',x:crValues,y:shapValues,xaxis:xr,yaxis:yr,showlegend:false,hoverinfo:'skip',
  marker:{size:markerSizes,opacity:alpha,color:series[i],cmin:colorMins[i],cmax:colorMaxs[i],colorscale:markerScale,showscale:false,line:{width:0}}});
 traces.push({type:'scatter',mode:'markers',x:crValues.slice(0,1),y:shapValues.slice(0,1),xaxis:xr,yaxis:yr,showlegend:false,hoverinfo:'skip',
  marker:{size:1,opacity:0,color:[colorMins[i]],cmin:colorMins[i],cmax:colorMaxs[i],colorscale:barScale,showscale:true,
   colorbar:{x:cbLeft[col]/W,xanchor:'left',xpad:0,y:1-(rowTop[row]+rowBottom[row])/2/H,yanchor:'middle',ypad:0,
    lenmode:'pixels',len:rowBottom[row]-rowTop[row],thicknessmode:'pixels',thickness:cbWidth[col],
    tickmode:'array',tickvals:colorTicks[i],tickformat:i===2?'.1f':'',ticks:'outside',ticklen:10,tickwidth:2,tickcolor:'#333',
    outlinewidth:2,outlinecolor:'#333',tickfont:{size:31,family:serif,color:ink}}}});
 layout.annotations.push({xref:'paper',yref:'paper',x:cbTitleX[i]/W,y:1-(rowTop[row]+rowBottom[row])/2/H,xanchor:'center',yanchor:'middle',
  textangle:90,showarrow:false,text:name+' Values',font:{size:31,family:serif,color:ink}});
 layout.annotations.push({xref:xr+' domain',yref:yr+' domain',x:0.5,y:1,yshift:7,xanchor:'center',yanchor:'bottom',showarrow:false,
  text:'<b>CR SHAP vs '+name+'</b>',font:{size:33,family:serif,color:'#111'}});
 layout.annotations.push({xref:xr+' domain',yref:yr+' domain',x:0.985,y:0.985,xanchor:'right',yanchor:'top',showarrow:false,
  text:'<b>('+panelLetters[i]+')</b>',font:{size:33,family:serif,color:'#111'}});
});
Plotly.newPlot('g',traces,layout,{displayModeBar:false,staticPlot:true});
</script></body></html>
